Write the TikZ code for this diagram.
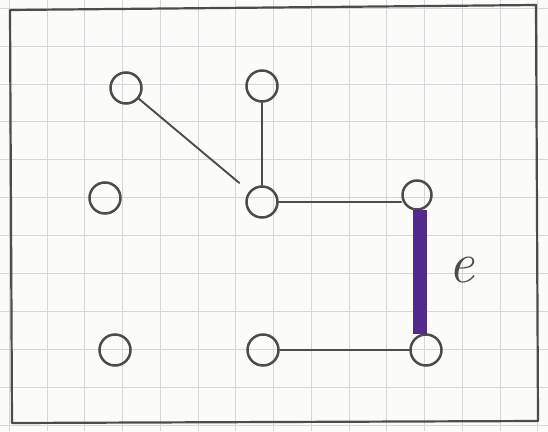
\documentclass[tikz,border=0pt]{standalone}
\usepackage{fontspec}
\setmainfont{Latin Modern Roman}
\usetikzlibrary{calc}
\definecolor{paper}{RGB}{251,251,249}
\definecolor{gridc}{RGB}{214,214,216}
\definecolor{penc}{RGB}{80,75,75}
\definecolor{purp}{RGB}{82,42,140}
\tikzset{
  vtx/.style={circle,draw=penc,line width=2.5pt,minimum size=31pt,inner sep=0pt},
  edg/.style={draw=penc,line width=1.9pt,line cap=round},
  hl/.style={draw=purp,line width=14pt,line cap=butt},
  frame/.style={draw=penc,line width=2.2pt,line join=round},
  gridl/.style={draw=gridc,line width=0.8pt}
}
\begin{document}
\begin{tikzpicture}[x=1pt,y=-1pt]
\useasboundingbox (0,0) rectangle (548,431);
\fill[paper] (0,0) rectangle (548,431);
% grid
\foreach \k in {-1,...,13} {\draw[gridl] ({47+37.75*\k},0) -- ({47+37.75*\k},431);}
\foreach \k in {-1,...,10} {\draw[gridl] (0,{46+37.9*\k}) -- (548,{46+37.9*\k});}
% frame
\draw[frame] (10,10) -- (536,5) -- (538,421) -- (12,423) -- cycle;
% vertices
\node[vtx] (A) at (126,88) {};
\node[vtx] (B) at (262,86) {};
\node[vtx] (C) at (105,198) {};
\node[vtx] (D) at (262,202) {};
\node[vtx,minimum size=29pt] (E) at (417,195) {};
\node[vtx] (F) at (115,350) {};
\node[vtx] (G) at (263,350) {};
\node[vtx] (H) at (426,350) {};
% edges
\draw[edg,shorten >=13pt] (A) -- (D);
\draw[edg] (B) -- (D);
\draw[edg] (D.east) -- (E.west |- D.east);
\draw[edg] (G) -- (H);
\draw[hl] ($(E.south)+(3,-1)$) -- ($(H.north)+(-6,1)$);
% label
\node[text=penc,font=\fontsize{58}{58}\selectfont\itshape,inner sep=0pt] (lab) at (462,270) {e};
\end{tikzpicture}
\end{document}
